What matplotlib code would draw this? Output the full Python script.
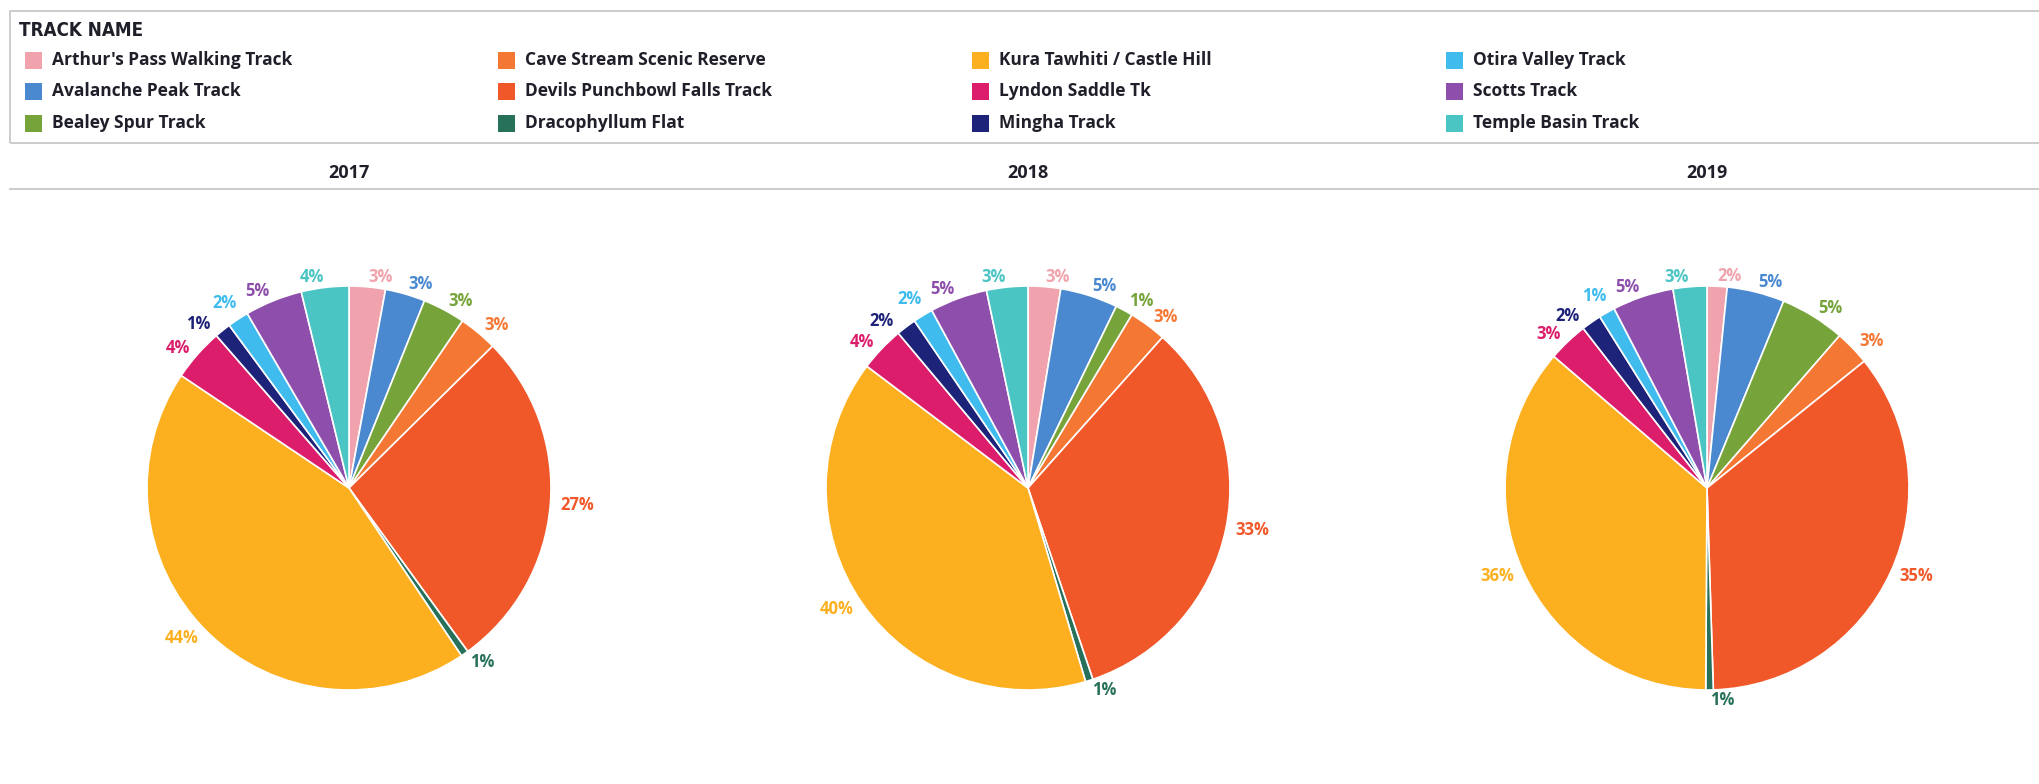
import matplotlib
matplotlib.use("Agg")
import matplotlib.pyplot as plt
from matplotlib.patches import Rectangle
from matplotlib.lines import Line2D

# data (share of visits, %), legend order
track_names = [
    "Arthur's Pass Walking Track", "Avalanche Peak Track", "Bealey Spur Track",
    "Cave Stream Scenic Reserve", "Devils Punchbowl Falls Track", "Dracophyllum Flat",
    "Kura Tawhiti / Castle Hill", "Lyndon Saddle Tk", "Mingha Track",
    "Otira Valley Track", "Scotts Track", "Temple Basin Track",
]
track_colors = [
    "#f0a3ac", "#4a88cf", "#76a33a",
    "#f47733", "#f0582a", "#27705a",
    "#fcb020", "#db1d6b", "#1e237a",
    "#40bbee", "#8d4fab", "#4bc4c4",
]
years = ["2017", "2018", "2019"]
share_2017 = [2.9, 3.2, 3.4, 3.1, 27.4, 0.6, 43.8, 4.2, 1.3, 1.7, 4.6, 3.8]
share_2018 = [2.6, 4.6, 1.4, 3.0, 33.2, 0.6, 39.9, 3.6, 1.6, 1.6, 4.6, 3.3]
share_2019 = [1.6, 4.6, 5.2, 2.8, 35.3, 0.6, 36.2, 3.2, 1.6, 1.3, 4.9, 2.7]
shares = [share_2017, share_2018, share_2019]

W, H = 2040, 784
fig = plt.figure(figsize=(W / 100, H / 100), dpi=100)
fig.patch.set_facecolor("white")


def fx(px):
    return px / W


def fy(py):
    return 1 - py / H


grey = "#c8c8c8"
ink = "#1f1f2a"

# legend box + title band line
fig.add_artist(Rectangle((fx(10), fy(143)), 1.0, (143 - 11) / H, transform=fig.transFigure,
                         fill=False, edgecolor=grey, lw=1.3))
fig.add_artist(Line2D([fx(10), 1], [fy(189), fy(189)], transform=fig.transFigure,
                      color=grey, lw=1.3))

fig.text(fx(19), fy(31), "TRACK NAME", ha="left", va="center", fontsize=13.5,
         fontweight="bold", family="DejaVu Sans", fontstretch="condensed", color=ink)

col_x = [25, 498, 972, 1446]
row_y = [60, 91, 123]
for i, (name, col) in enumerate(zip(track_names, track_colors)):
    x = col_x[i // 3]
    y = row_y[i % 3]
    fig.add_artist(Rectangle((fx(x), fy(y + 8.5)), 17 / W, 17 / H, transform=fig.transFigure,
                             facecolor=col, edgecolor="none"))
    fig.text(fx(x + 27), fy(y), name, ha="left", va="center", fontsize=12.5,
             fontweight="bold", family="Open Sans", color=ink)

centers_x = [349, 1028, 1707]
cy = 488
r = 202
for year, vals, cx in zip(years, shares, centers_x):
    fig.text(fx(cx), fy(173), year, ha="center", va="center", fontsize=13,
             fontweight="bold", family="Open Sans", color=ink)
    ax = fig.add_axes([fx(cx - 1.25 * r), fy(cy + 1.25 * r), 2.5 * r / W, 2.5 * r / H])
    total = sum(vals)
    labels = [f"{v / total * 100:.0f}%" for v in vals]
    wedges, texts = ax.pie(vals, colors=track_colors, startangle=90, counterclock=False,
                           labels=labels, labeldistance=1.05,
                           wedgeprops=dict(edgecolor="white", linewidth=1.2),
                           textprops=dict(fontsize=12, fontweight="bold", family="Open Sans"))
    for t, c in zip(texts, track_colors):
        t.set_color(c)
    # small neighbouring labels (Mingha / Otira) sit a touch apart
    tx, ty = texts[9].get_position()
    texts[9].set_position((tx + 0.02, ty + 0.04))
    tx, ty = texts[8].get_position()
    texts[8].set_position((tx - 0.03, ty - 0.01))
    ax.set_xlim(-1.25, 1.25)
    ax.set_ylim(-1.25, 1.25)
    ax.set_aspect("equal")

fig.savefig("out.png", dpi=100, facecolor="white")
